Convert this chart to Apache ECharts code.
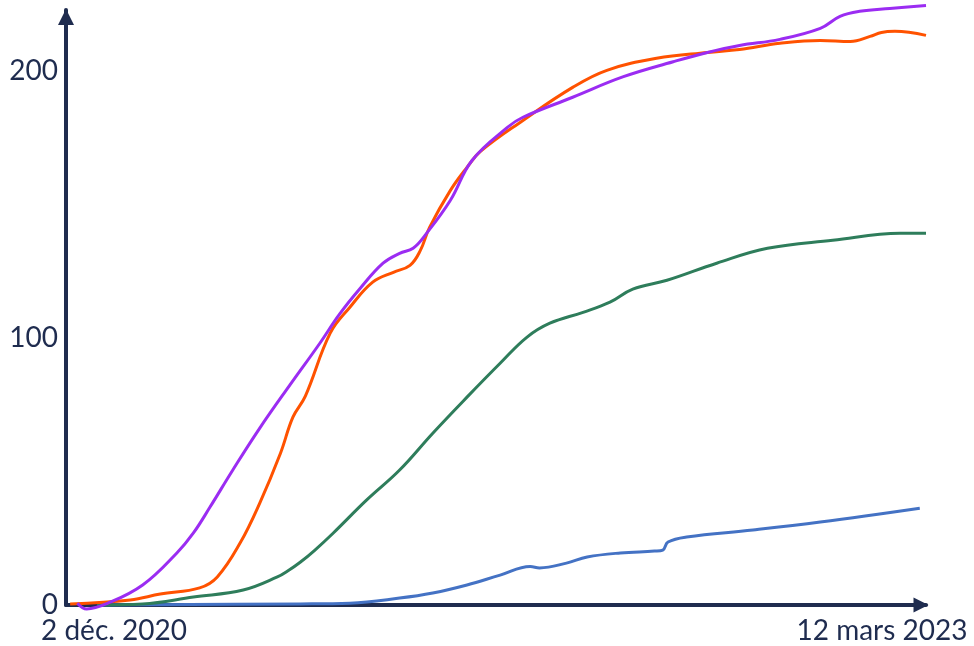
<!DOCTYPE html>
<html>
<head>
<meta charset="utf-8">
<script src="https://cdn.jsdelivr.net/npm/echarts@6/dist/echarts.min.js"></script>
<style>html,body{margin:0;padding:0;background:#fff}#c{width:974px;height:646px}</style>
</head>
<body>
<div id="c"></div>
<script>
// x = days since 2 Dec 2020 (830 = 12 Mar 2023)
const xLabels = {0: '2 déc. 2020', 830: '12 mars 2023'};
const yTicks = [0, 100, 200];

const purpleDays = [11, 20, 40, 74, 107, 123, 139, 161, 187, 216, 245, 264, 284, 306, 322, 335, 348, 371, 392, 426, 441, 489, 538, 586, 619, 650, 689, 728, 747, 766, 795, 830];
const purpleVals = [0.7, -1.5, 0.6, 7.5, 19.5, 27.0, 36.7, 50.6, 66.3, 82.4, 98.1, 109.0, 118.7, 128.1, 131.8, 133.7, 139.3, 151.7, 166.7, 179.0, 182.8, 190.3, 198.0, 203.6, 207.1, 209.7, 212.0, 216.1, 220.6, 222.5, 223.6, 224.7];

const orangeDays = [4, 62, 91, 129, 146, 168, 187, 207, 219, 231, 255, 274, 296, 316, 332, 342, 351, 371, 387, 400, 441, 489, 522, 570, 619, 650, 689, 728, 757, 776, 787, 800, 830];
const orangeVals = [0.4, 1.9, 4.1, 6.4, 10.5, 23.2, 38.2, 56.9, 70.4, 78.3, 101.9, 111.6, 121.0, 124.7, 127.3, 132.9, 141.6, 155.4, 164.0, 170.0, 181.6, 194.0, 200.4, 204.9, 207.1, 208.2, 210.5, 211.6, 211.2, 213.1, 214.6, 215.0, 213.5];

const greenDays = [30, 74, 123, 171, 204, 215, 226, 240, 258, 290, 322, 354, 387, 419, 445, 467, 499, 525, 547, 580, 628, 677, 740, 805, 830];
const greenVals = [0, 0.4, 3.0, 5.6, 10.5, 13.0, 16.0, 20.5, 27.0, 39.3, 50.6, 64.4, 77.9, 90.6, 100.4, 105.6, 109.7, 113.5, 118.4, 121.7, 128.1, 133.7, 136.7, 139.3, 139.3];

const blueDays = [33, 226, 274, 322, 354, 387, 419, 448, 457, 483, 503, 535, 568, 576, 581, 599, 663, 728, 824];
const blueVals = [0, 0.4, 0.7, 2.6, 4.5, 7.5, 11.2, 14.4, 13.9, 15.7, 18.0, 19.5, 20.2, 20.6, 23.6, 25.5, 28.1, 31.1, 36.3];

function pairs(xs, ys) { return xs.map((x, i) => [x, ys[i]]); }

const axisColor = '#1f2c4f';
const font = 'Lato, "Open Sans", sans-serif';

const chart = echarts.init(document.getElementById('c'), null, {renderer: 'canvas'});

function mkLine(name, color, xs, ys) {
  return {
    name, type: 'line', data: pairs(xs, ys), smooth: 0.4, showSymbol: false, clip: false,
    lineStyle: {color, width: 3}, itemStyle: {color}, z: 3
  };
}

chart.setOption({
  animation: false,
  backgroundColor: '#fff',
  grid: {left: 66, right: 48, top: 10, bottom: 41, containLabel: false, outerBoundsMode: 'none'},
  xAxis: {
    type: 'value', min: 0, max: 830, interval: 830,
    axisLine: {show: true, lineStyle: {color: axisColor, width: 4}, symbol: ['none', 'triangle'], symbolSize: [15, 15], symbolOffset: [0, -5]},
    axisTick: {show: false}, splitLine: {show: false},
    axisLabel: {
      margin: 12, color: axisColor, fontFamily: font, fontSize: 28,
      formatter: v => v === 0 ? '{a|' + xLabels[0] + '}' : (v === 830 ? '{b|' + xLabels[830] + '}' : ''),
      rich: {
        a: {padding: [0, 0, 0, 96], fontFamily: font, fontSize: 28, color: axisColor},
        b: {padding: [0, 88, 0, 0], fontFamily: font, fontSize: 28, color: axisColor}
      }
    }
  },
  yAxis: {
    type: 'value', min: 0, max: 223, interval: 100,
    axisLine: {show: true, lineStyle: {color: axisColor, width: 4}, symbol: ['none', 'triangle'], symbolSize: [16, 16], symbolOffset: [0, -7]},
    axisTick: {show: false}, splitLine: {show: false},
    axisLabel: {
      margin: 8, color: axisColor, fontFamily: font, fontSize: 28,
      formatter: v => yTicks.includes(v) ? String(v) : ''
    }
  },
  series: [
    mkLine('Bleu', '#4472c4', blueDays, blueVals),
    mkLine('Vert', '#2e7d5b', greenDays, greenVals),
    mkLine('Orange', '#ff5200', orangeDays, orangeVals),
    mkLine('Violet', '#9b2cf2', purpleDays, purpleVals)
  ]
});
</script>
</body>
</html>
